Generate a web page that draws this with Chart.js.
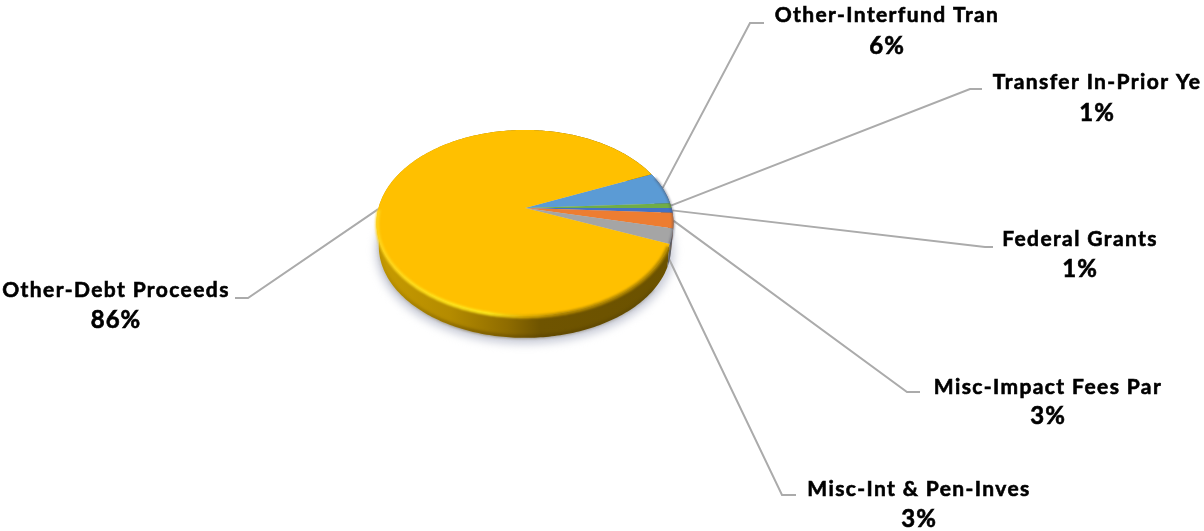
<!DOCTYPE html>
<html lang="en">
<head>
    <meta charset="UTF-8">
    <title>Revenue Sources</title>
    <script src="https://cdn.jsdelivr.net/npm/chart.js"></script>
    <style>
        body { margin: 0; background: white; overflow: hidden; }
        #pie { display: block; }
    </style>
</head>
<body>
    <canvas id="pie" width="1204" height="531"></canvas>
    <script>
        // slice order is clockwise, starting at the top edge of the blue slice
        const categories = ['Other-Interfund Tran', 'Transfer In-Prior Ye', 'Federal Grants', 'Misc-Impact Fees Par', 'Misc-Int & Pen-Inves', 'Other-Debt Proceeds'];
        const shares = [5.55, 0.8, 0.85, 2.6, 2.55, 86];
        const colors = ['#5B9BD5', '#70AD47', '#4472C4', '#ED7D31', '#A5A5A5', '#FFC000'];

        // where the text and the leader elbows sit on the page
        const labelSpots = [
            { x: 887, y: 15, py: 46, elbow: [750, 23], end: [764, 23] },
            { x: 1097, y: 82, py: 113, elbow: [970, 89], end: [982, 89] },
            { x: 1080, y: 239, py: 269, elbow: [985, 247], end: [993, 247] },
            { x: 1048, y: 387, py: 416, elbow: [907, 392], end: [920, 392] },
            { x: 919, y: 489, py: 519, elbow: [782, 495], end: [796, 495], shift: [-8, 12] },
            { x: 116, y: 290, py: 320, elbow: [248, 298], end: [235, 298] }
        ];

        // tilt of the disc: flatten plus a bit of perspective so the front looks bigger
        const RX = 146.5, RY = 90.6, TILT = 0.161;
        const DEPTH = 23.5, BOTTOM_SCALE = 0.985;

        function rimPoint(arc, a, scale, dy) {
            const u = Math.cos(a), v = Math.sin(a), d = 1 - TILT * v;
            return [arc.x + scale * RX * u / d, arc.y + scale * RY * v / d + dy];
        }

        function traceRim(ctx, arc, from, to, scale, dy, first) {
            const steps = Math.max(2, Math.ceil(Math.abs(to - from) * 60));
            for (let i = 0; i <= steps; i++) {
                const p = rimPoint(arc, from + (to - from) * i / steps, scale, dy);
                if (i === 0 && first) ctx.moveTo(p[0], p[1]);
                else ctx.lineTo(p[0], p[1]);
            }
        }

        function wallPath(ctx, arc, from, to) {
            ctx.beginPath();
            traceRim(ctx, arc, from, to, 1, 0, true);
            traceRim(ctx, arc, to, from, BOTTOM_SCALE, DEPTH, false);
            ctx.closePath();
        }

        function hGradient(ctx, stops) {
            const g = ctx.createLinearGradient(376, 0, 674, 0);
            stops.forEach(s => g.addColorStop(s[0], s[1]));
            return g;
        }

        const disc3d = {
            id: 'disc3d',
            beforeDatasetDraw() {
                return false; // the flat pie is replaced by the tilted one below
            },
            afterDatasetsDraw(chart) {
                const ctx = chart.ctx;
                const arcs = chart.getDatasetMeta(0).data;
                const c = arcs[0];
                const full = Math.PI * 2;

                // soft shadow under the disc
                ctx.save();
                ctx.filter = 'blur(4px)';
                ctx.fillStyle = '#C9CCD8';
                ctx.beginPath();
                traceRim(ctx, c, 0, full, 1.005, DEPTH + 4, true);
                ctx.fill();
                ctx.restore();

                // leader lines go under the disc
                ctx.save();
                ctx.strokeStyle = '#ABABAB';
                ctx.lineWidth = 2;
                arcs.forEach((arc, i) => {
                    const s = labelSpots[i];
                    const p = rimPoint(c, (arc.startAngle + arc.endAngle) / 2, 1, 0);
                    const shift = s.shift || [0, 0];
                    ctx.beginPath();
                    ctx.moveTo(p[0] + shift[0], p[1] + shift[1]);
                    ctx.lineTo(s.elbow[0], s.elbow[1]);
                    ctx.lineTo(s.end[0], s.end[1]);
                    ctx.stroke();
                });
                ctx.restore();

                // side walls
                const big = arcs[arcs.length - 1];
                ctx.fillStyle = hGradient(ctx, [[0, '#C89C00'], [0.25, '#B48B00'], [0.44, '#8F6C00'], [0.55, '#6F5400'], [1, '#6B5200']]);
                wallPath(ctx, c, big.startAngle, big.endAngle);
                ctx.fill();
                arcs.slice(0, -1).forEach((arc, i) => {
                    ctx.fillStyle = colors[i];
                    wallPath(ctx, c, arc.startAngle, arc.endAngle);
                    ctx.fill();
                    ctx.fillStyle = 'rgba(40,40,50,0.55)';
                    ctx.fill();
                });

                // darker lower edge of the wall
                ctx.save();
                ctx.filter = 'blur(1.5px)';
                ctx.strokeStyle = hGradient(ctx, [[0, 'rgba(90,70,0,0.1)'], [0.3, 'rgba(90,65,0,0.55)'], [0.6, 'rgba(70,50,0,0.4)'], [1, 'rgba(60,50,10,0.2)']]);
                ctx.lineWidth = 3;
                ctx.beginPath();
                traceRim(ctx, c, big.startAngle + 0.25, Math.PI, BOTTOM_SCALE, DEPTH - 1, true);
                ctx.stroke();
                ctx.restore();

                // top face
                arcs.forEach((arc, i) => {
                    ctx.fillStyle = colors[i];
                    ctx.beginPath();
                    ctx.moveTo(arc.x, arc.y);
                    traceRim(ctx, c, arc.startAngle, arc.endAngle, 1, 0, false);
                    ctx.closePath();
                    ctx.fill();
                });

                // bevel along the front edge of the yellow slice
                ctx.save();
                ctx.filter = 'blur(1.2px)';
                ctx.strokeStyle = hGradient(ctx, [[0, '#FFD21A'], [0.2, '#FFE21A'], [0.38, '#FFE81A'], [0.5, '#E0AE00'], [0.62, '#B88C00'], [1, '#B08600']]);
                ctx.lineWidth = 3.5;
                ctx.beginPath();
                traceRim(ctx, c, big.startAngle + 0.02, big.startAngle + 2.75, 0.995, 1, true);
                ctx.stroke();

                // same soft edge on the small slices, darker
                ctx.filter = 'blur(0.8px)';
                ctx.strokeStyle = 'rgba(70,75,95,0.55)';
                ctx.lineWidth = 2;
                ctx.beginPath();
                traceRim(ctx, c, arcs[0].startAngle + 0.05, big.startAngle, 1, 0, true);
                ctx.stroke();
                ctx.restore();

                // labels, stroked a little because the original face is heavier than Lato bold
                ctx.save();
                ctx.fillStyle = '#000000';
                ctx.strokeStyle = '#000000';
                ctx.lineWidth = 0.6;
                ctx.textAlign = 'center';
                ctx.textBaseline = 'middle';
                categories.forEach((name, i) => {
                    const s = labelSpots[i];
                    ctx.font = 'bold 21px Lato';
                    ctx.letterSpacing = '1.4px';
                    ctx.fillText(name, s.x, s.y);
                    ctx.strokeText(name, s.x, s.y);
                    const pct = Math.round(shares[i]) + '%';
                    ctx.font = 'bold 24px Lato';
                    ctx.letterSpacing = '1px';
                    ctx.fillText(pct, s.x, s.py);
                    ctx.strokeText(pct, s.x, s.py);
                });
                ctx.restore();
            }
        };

        new Chart(document.getElementById('pie'), {
            type: 'pie',
            data: {
                labels: categories,
                datasets: [{ data: shares, backgroundColor: colors, borderWidth: 0 }]
            },
            options: {
                responsive: false,
                animation: false,
                rotation: 66.7,
                layout: { padding: { right: 154, bottom: 115 } },
                plugins: { legend: { display: false }, tooltip: { enabled: false } }
            },
            plugins: [disc3d]
        });
    </script>
</body>
</html>
